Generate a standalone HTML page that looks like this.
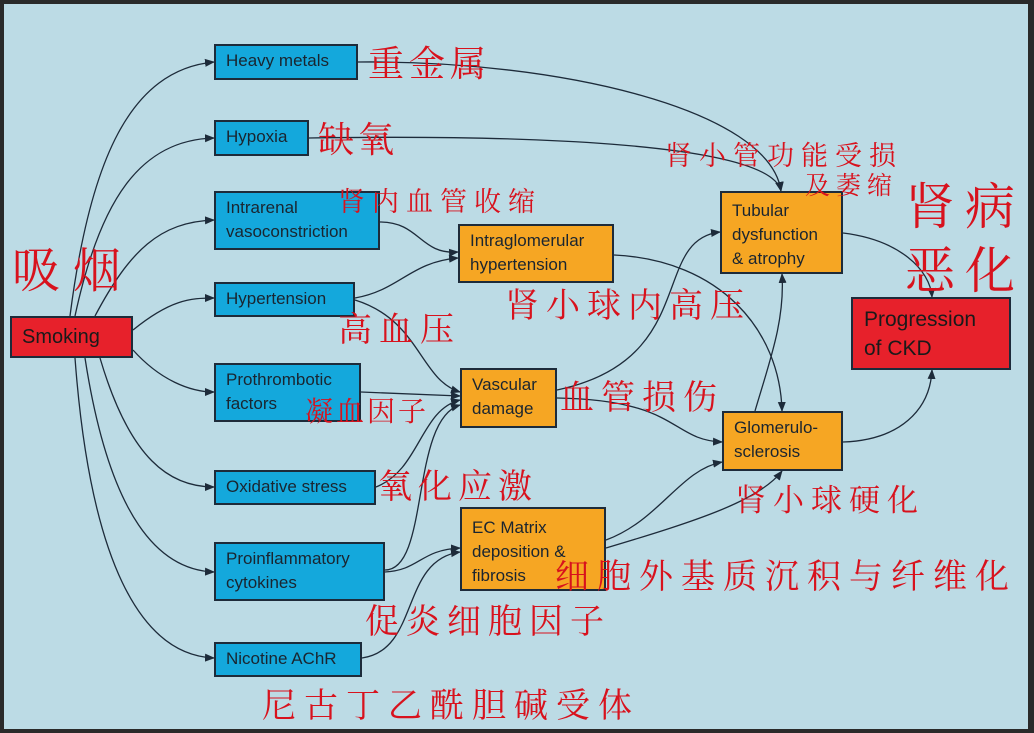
<!DOCTYPE html>
<html><head><meta charset="utf-8"><style>
body{margin:0;width:1034px;height:733px;overflow:hidden;background:#2a2a2a;}
#c{position:absolute;left:4px;top:4px;width:1024px;height:725px;background:#bcdbe5;}
.b{position:absolute;box-sizing:border-box;border:2px solid #1d2b3a;font-family:"Liberation Sans",sans-serif;font-size:17px;color:#1a2530;line-height:24px;padding:3px 10px;}
.bl{background:#14a8dc;}
.or{background:#f6a623;}
.rd{background:#e7212b;}
.z{position:absolute;color:#d8121d;font-family:"Noto Serif CJK SC","WenQuanYi Zen Hei",serif;white-space:nowrap;line-height:1;}
svg{position:absolute;left:0;top:0;}
</style></head><body>
<div id="c"></div>
<svg width="1034" height="733">
<defs><marker id="a" markerWidth="10" markerHeight="10" refX="9" refY="5" orient="auto" markerUnits="userSpaceOnUse"><path d="M0,1 L10,5 L0,9z" fill="#1d2b3a"/></marker></defs>
<g fill="none" stroke="#1d2b3a" stroke-width="1.3" marker-end="url(#a)">
<path d="M70,316 C90,160 130,70 214,62"/>
<path d="M75,316 C100,200 140,140 214,138"/>
<path d="M95,316 C130,250 160,222 214,220"/>
<path d="M133,330 C170,300 190,298 214,298"/>
<path d="M133,350 C160,380 190,392 214,392"/>
<path d="M100,358 C130,460 170,487 214,487"/>
<path d="M85,358 C110,520 160,570 214,572"/>
<path d="M75,358 C90,560 140,655 214,658"/>
<path d="M358,62 C560,60 770,110 781,191"/>
<path d="M309,138 C500,135 770,140 781,191"/>
<path d="M380,222 C420,222 420,255 458,252"/>
<path d="M355,298 C400,290 410,262 458,258"/>
<path d="M355,300 C420,320 420,380 460,392"/>
<path d="M361,392 L460,396"/>
<path d="M376,487 C420,470 420,410 460,400"/>
<path d="M385,570 C430,570 410,420 460,405"/>
<path d="M385,572 C420,570 420,550 460,548"/>
<path d="M362,658 C420,650 400,560 460,552"/>
<path d="M614,255 C720,260 780,330 782,411"/>
<path d="M557,390 C700,360 650,240 720,232"/>
<path d="M557,398 C680,400 670,440 722,442"/>
<path d="M606,540 C660,520 680,470 722,462"/>
<path d="M606,548 C700,520 760,500 782,471"/>
<path d="M755,411 C770,360 785,320 782,274"/>
<path d="M843,233 C900,240 930,270 932,297"/>
<path d="M843,442 C900,440 930,410 932,370"/>
</g></svg>
<div class="b rd" style="left:10px;top:316px;width:123px;height:42px;font-size:20px;padding:7px 10px;color:#1a1a1a">Smoking</div>
<div class="b bl" style="left:214px;top:44px;width:144px;height:36px">Heavy metals</div>
<div class="b bl" style="left:214px;top:120px;width:95px;height:36px">Hypoxia</div>
<div class="b bl" style="left:214px;top:191px;width:166px;height:59px">Intrarenal<br>vasoconstriction</div>
<div class="b bl" style="left:214px;top:282px;width:141px;height:35px">Hypertension</div>
<div class="b bl" style="left:214px;top:363px;width:147px;height:59px">Prothrombotic<br>factors</div>
<div class="b bl" style="left:214px;top:470px;width:162px;height:35px">Oxidative stress</div>
<div class="b bl" style="left:214px;top:542px;width:171px;height:59px">Proinflammatory<br>cytokines</div>
<div class="b bl" style="left:214px;top:642px;width:148px;height:35px">Nicotine AChR</div>
<div class="b or" style="left:458px;top:224px;width:156px;height:59px">Intraglomerular<br>hypertension</div>
<div class="b or" style="left:460px;top:368px;width:97px;height:60px">Vascular<br>damage</div>
<div class="b or" style="left:460px;top:507px;width:146px;height:84px;padding-top:7px">EC Matrix<br>deposition &amp;<br>fibrosis</div>
<div class="b or" style="left:720px;top:191px;width:123px;height:83px;padding-top:6px">Tubular<br>dysfunction<br>&amp; atrophy</div>
<div class="b or" style="left:722px;top:411px;width:121px;height:60px">Glomerulo-<br>sclerosis</div>
<div class="b rd" style="left:851px;top:297px;width:160px;height:73px;font-size:21px;line-height:29px;padding:6px 11px;color:#1a1a1a">Progression<br>of CKD</div>
<div class="z" style="left:12px;top:243px;font-size:48px;letter-spacing:13px">吸烟</div>
<div class="z" style="left:368px;top:44px;font-size:36px;letter-spacing:5px">重金属</div>
<div class="z" style="left:318px;top:120px;font-size:36px;letter-spacing:4px">缺氧</div>
<div class="z" style="left:338px;top:186px;font-size:27px;letter-spacing:7px">肾内血管收缩</div>
<div class="z" style="left:665px;top:140px;font-size:27px;letter-spacing:7px">肾小管功能受损</div>
<div class="z" style="left:805px;top:172px;font-size:25px;letter-spacing:6px">及萎缩</div>
<div class="z" style="left:905px;top:178px;font-size:50px;letter-spacing:10px">肾病</div>
<div class="z" style="left:905px;top:242px;font-size:50px;letter-spacing:10px">恶化</div>
<div class="z" style="left:505px;top:286px;font-size:34px;letter-spacing:7px">肾小球内高压</div>
<div class="z" style="left:338px;top:310px;font-size:34px;letter-spacing:7px">高血压</div>
<div class="z" style="left:560px;top:378px;font-size:34px;letter-spacing:7px">血管损伤</div>
<div class="z" style="left:305px;top:396px;font-size:28px;letter-spacing:3px">凝血因子</div>
<div class="z" style="left:378px;top:467px;font-size:34px;letter-spacing:6px">氧化应激</div>
<div class="z" style="left:735px;top:482px;font-size:31px;letter-spacing:7px">肾小球硬化</div>
<div class="z" style="left:555px;top:557px;font-size:34px;letter-spacing:8px">细胞外基质沉积与纤维化</div>
<div class="z" style="left:365px;top:602px;font-size:34px;letter-spacing:7px">促炎细胞因子</div>
<div class="z" style="left:262px;top:686px;font-size:34px;letter-spacing:8px">尼古丁乙酰胆碱受体</div>
</body></html>
